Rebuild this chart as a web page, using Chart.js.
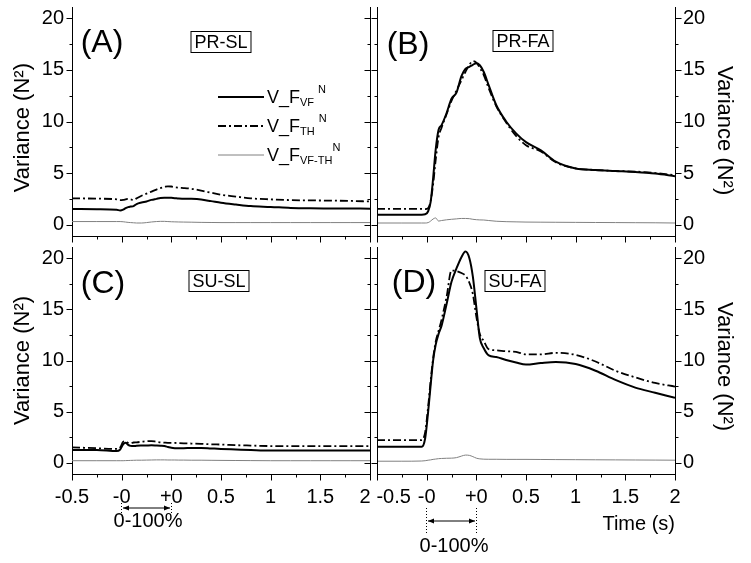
<!DOCTYPE html>
<html>
<head>
<meta charset="utf-8">
<script src="https://cdn.jsdelivr.net/npm/chart.js@4.4.0/dist/chart.umd.min.js"></script>
<style>
  body { margin: 0; background: #fff; }
  #wrap { position: relative; width: 751px; height: 563px; overflow: hidden;
          font-family: "Liberation Sans", Arial, sans-serif; color: #000; }
  #wrap canvas { position: absolute; left: 0; top: 0; }
  #wrap svg { position: absolute; left: 0; top: 0; }
  .lbl { position: absolute; transform: translate(-50%, -50%); white-space: nowrap; }
  .panel { font-size: 32px; line-height: 36px; }
  .box { font-size: 18px; line-height: 20px; border: 1px solid #000; padding: 0 3px; }
  .pct { font-size: 20px; line-height: 24px; }
  .leg { position: absolute; left: 267px; font-size: 18px; line-height: 22px; white-space: nowrap; }
  .leg .sb { position: relative; top: 3px; font-size: 11px; }
  .leg .sp { position: relative; top: -10px; font-size: 11px; margin-left: 4px; }
</style>
</head>
<body>
<div id="wrap">
  <canvas id="cA" width="751" height="563"></canvas>
  <canvas id="cB" width="751" height="563"></canvas>
  <canvas id="cC" width="751" height="563"></canvas>
  <canvas id="cD" width="751" height="563"></canvas>

  <svg width="751" height="563">
    <defs>
      <marker id="ah" viewBox="0 0 6 6" refX="6" refY="3" markerWidth="6" markerHeight="6" orient="auto-start-reverse">
        <path d="M0,0.5 L6,3 L0,5.5 z" fill="#000"/>
      </marker>
    </defs>
    <!-- legend samples -->
    <line x1="218" y1="97" x2="264" y2="97" stroke="#000" stroke-width="2"/>
    <line x1="218" y1="126" x2="264" y2="126" stroke="#000" stroke-width="1.8" stroke-dasharray="8 3 2 3"/>
    <line x1="218" y1="155" x2="264" y2="155" stroke="#808080" stroke-width="1"/>
    <!-- 0-100% markers -->
    <line x1="121.5" y1="503" x2="121.5" y2="514" stroke="#000" stroke-width="1" stroke-dasharray="1 2"/>
    <line x1="171.5" y1="503" x2="171.5" y2="514" stroke="#000" stroke-width="1" stroke-dasharray="1 2"/>
    <line x1="123" y1="508" x2="170" y2="508" stroke="#000" stroke-width="1" marker-start="url(#ah)" marker-end="url(#ah)"/>
    <line x1="426.5" y1="508" x2="426.5" y2="533" stroke="#000" stroke-width="1" stroke-dasharray="1 2"/>
    <line x1="476.5" y1="508" x2="476.5" y2="533" stroke="#000" stroke-width="1" stroke-dasharray="1 2"/>
    <line x1="428" y1="521" x2="475" y2="521" stroke="#000" stroke-width="1" marker-start="url(#ah)" marker-end="url(#ah)"/>
  </svg>

  <div class="lbl panel" style="left:102px;top:41px">(A)</div>
  <div class="lbl panel" style="left:408px;top:43px">(B)</div>
  <div class="lbl panel" style="left:103px;top:282px">(C)</div>
  <div class="lbl panel" style="left:414px;top:281px">(D)</div>

  <div class="lbl box" style="left:221px;top:42px">PR-SL</div>
  <div class="lbl box" style="left:523px;top:41px">PR-FA</div>
  <div class="lbl box" style="left:219px;top:281px">SU-SL</div>
  <div class="lbl box" style="left:515px;top:281px">SU-FA</div>

  <div class="leg" style="top:86px">V_F<span class="sb">VF</span><span class="sp">N</span></div>
  <div class="leg" style="top:115px">V_F<span class="sb">TH</span><span class="sp">N</span></div>
  <div class="leg" style="top:144px">V_F<span class="sb">VF-TH</span><span class="sp" style="margin-left:0">N</span></div>

  <div class="lbl pct" style="left:148px;top:520px">0-100%</div>
  <div class="lbl pct" style="left:454px;top:545px">0-100%</div>
</div>

<script>
// time axis: 0 = -0.5 s, 1 = movement onset, 2 = movement end, 3..6 = 0.5..2 s after
const xTickLabels = ['-0.5', '-0', '+0', '0.5', '1', '1.5', '2'];
const xMinorTicks = [0.5, 1.5, 2.5, 3.5, 4.5, 5.5];
const yTickValues = [0, 5, 10, 15, 20];
const yMinorTicks = [2.5, 7.5, 12.5, 17.5];

const timeGrid = [0, 0.5, 0.9, 0.97, 1.03, 1.08, 1.13, 1.18, 1.24, 1.3, 1.4, 1.5, 1.6, 1.7, 1.78, 1.86,
  1.93, 2.0, 2.07, 2.15, 2.25, 2.4, 2.6, 2.8, 3.0, 3.3, 3.6, 4.0, 4.4, 4.8, 5.2, 5.6, 6.0];

// (A) PR-SL
const prSlVF = [1.52, 1.5, 1.45, 1.37, 1.45, 1.6, 1.7, 1.75, 1.8, 2.0, 2.15, 2.25, 2.4, 2.5, 2.58, 2.62,
  2.62, 2.6, 2.57, 2.53, 2.52, 2.5, 2.43, 2.28, 2.12, 1.95, 1.8, 1.72, 1.62, 1.58, 1.57, 1.56, 1.55];
const prSlTH = [2.55, 2.52, 2.45, 2.38, 2.4, 2.45, 2.5, 2.45, 2.4, 2.55, 2.8, 3.0, 3.2, 3.4, 3.55, 3.65,
  3.72, 3.7, 3.62, 3.58, 3.55, 3.48, 3.3, 3.1, 2.9, 2.72, 2.55, 2.45, 2.38, 2.35, 2.33, 2.3, 2.25];
const prSlDiff = [0.3, 0.3, 0.3, 0.3, 0.28, 0.25, 0.22, 0.2, 0.18, 0.16, 0.16, 0.2, 0.26, 0.3, 0.32, 0.32,
  0.3, 0.28, 0.27, 0.26, 0.25, 0.24, 0.22, 0.21, 0.2, 0.2, 0.2, 0.2, 0.2, 0.2, 0.2, 0.2, 0.2];

// (B) PR-FA
const prFaVF = [0.97, 0.97, 0.97, 1.0, 1.3, 2.2, 4.5, 7.2, 9.2, 9.65, 10.8, 12.2, 12.8, 14.4, 15.1, 15.3,
  15.5, 15.65, 15.45, 14.8, 13.5, 11.6, 10.0, 8.85, 8.0, 7.2, 6.1, 5.45, 5.3, 5.2, 5.1, 4.95, 4.7];
const prFaTH = [1.52, 1.52, 1.52, 1.5, 1.6, 2.3, 3.9, 6.2, 8.5, 9.4, 10.7, 12.0, 13.0, 14.0, 14.8, 15.5,
  15.85, 15.7, 15.2, 14.5, 13.2, 11.5, 9.9, 8.6, 7.7, 7.1, 6.05, 5.45, 5.3, 5.2, 5.15, 5.0, 4.8];
const prFaDiff = [0.16, 0.16, 0.16, 0.16, 0.2, 0.35, 0.55, 0.65, 0.35, 0.4, 0.47, 0.52, 0.56, 0.6, 0.6, 0.58,
  0.52, 0.48, 0.46, 0.45, 0.4, 0.33, 0.29, 0.27, 0.25, 0.24, 0.23, 0.22, 0.21, 0.2, 0.19, 0.18, 0.16];

// (C) SU-SL
const suSlVF = [1.25, 1.25, 1.15, 1.3, 1.8, 1.95, 1.75, 1.65, 1.63, 1.66, 1.68, 1.69, 1.7, 1.68, 1.66, 1.63,
  1.55, 1.47, 1.43, 1.42, 1.42, 1.45, 1.45, 1.4, 1.35, 1.3, 1.25, 1.2, 1.2, 1.2, 1.2, 1.2, 1.2];
const suSlTH = [1.5, 1.42, 1.35, 1.5, 2.05, 2.1, 1.95, 1.92, 1.98, 2.0, 2.05, 2.1, 2.12, 2.05, 2.0, 1.97,
  1.95, 1.95, 1.94, 1.92, 1.9, 1.88, 1.85, 1.8, 1.78, 1.72, 1.68, 1.63, 1.62, 1.62, 1.63, 1.63, 1.63];
const suSlDiff = [0.2, 0.2, 0.2, 0.2, 0.2, 0.21, 0.22, 0.23, 0.24, 0.25, 0.25, 0.26, 0.27, 0.28, 0.28, 0.28,
  0.27, 0.27, 0.27, 0.26, 0.26, 0.25, 0.25, 0.24, 0.23, 0.22, 0.21, 0.2, 0.2, 0.2, 0.2, 0.2, 0.2];

// (D) SU-FA
const suFaVF = [1.56, 1.56, 1.56, 2.4, 5.0, 7.6, 10.0, 11.5, 12.6, 13.4, 15.5, 17.7, 19.0, 20.1, 20.65, 20.0,
  18.2, 15.2, 12.2, 11.2, 10.5, 10.35, 10.05, 9.8, 9.6, 9.75, 9.85, 9.65, 9.0, 8.1, 7.35, 6.85, 6.35];
const suFaTH = [2.21, 2.21, 2.21, 3.0, 5.5, 8.0, 10.2, 11.8, 12.9, 14.0, 16.2, 18.8, 18.75, 18.55, 18.3, 17.6,
  16.5, 14.3, 12.6, 11.9, 11.1, 11.0, 10.9, 10.85, 10.6, 10.6, 10.75, 10.55, 9.9, 9.0, 8.35, 7.8, 7.45];
const suFaDiff = [0.15, 0.15, 0.17, 0.2, 0.25, 0.28, 0.33, 0.36, 0.4, 0.42, 0.44, 0.45, 0.5, 0.65, 0.75, 0.72,
  0.6, 0.45, 0.38, 0.35, 0.34, 0.34, 0.33, 0.33, 0.33, 0.32, 0.31, 0.3, 0.29, 0.28, 0.27, 0.26, 0.25];

Chart.defaults.font.family = '"Liberation Sans", Arial, sans-serif';
Chart.defaults.color = '#000';

// axis lines and tick marks that Chart.js has no option for (minor ticks, inner axis)
const frameTicks = {
  id: 'frameTicks',
  afterDraw(chart, args, opts) {
    const { ctx, chartArea: a, scales: { x, y } } = chart;
    const px = v => Math.round(v) + 0.5;
    const outerX = opts.outer === 'left' ? a.left : a.right;
    const innerX = opts.outer === 'left' ? a.right : a.left;
    const outDir = opts.outer === 'left' ? -1 : 1;
    ctx.save();
    ctx.strokeStyle = '#000';
    ctx.lineWidth = 1;
    ctx.beginPath();
    ctx.moveTo(px(innerX), a.top);
    ctx.lineTo(px(innerX), a.bottom);
    const yTick = (xp, dir, len, v) => {
      const yy = px(y.getPixelForValue(v));
      ctx.moveTo(px(xp), yy);
      ctx.lineTo(px(xp) + dir * len, yy);
    };
    yTickValues.forEach(v => { yTick(outerX, outDir, 6, v); yTick(innerX, -1, 6, v); });
    yMinorTicks.forEach(v => { yTick(outerX, outDir, 3, v); yTick(innerX, -1, 3, v); });
    const xTick = (v, len) => {
      const xx = px(x.getPixelForValue(v));
      ctx.moveTo(xx, px(a.bottom));
      ctx.lineTo(xx, px(a.bottom) + len);
    };
    xTickLabels.forEach((_, i) => xTick(i, 6));
    xMinorTicks.forEach(v => xTick(v, 3));
    ctx.stroke();
    ctx.restore();
  },
};

const pts = vals => vals.map((v, i) => ({ x: timeGrid[i], y: v }));

// spaces only nudge a label off the shared border between neighbouring panels
function xLabel(v, left) {
  const s = xTickLabels[v] ?? '';
  if (left && v === 6) return s + '\u2002';
  if (!left && v === 0) return ' '.repeat(6) + s;
  return s;
}

function drawPanel(id, vf, th, diff, side, bottomRow, titleShift) {
  const left = side === 'left';
  const top = bottomRow ? 247 : 7;
  const bottom = bottomRow ? 474 : 236;
  const xh = bottomRow ? 62 : 10;
  const padding = {
    top,
    bottom: 563 - bottom - xh,
    left: left ? 10 : 377,
    right: left ? 381 : 14,
  };
  const pad = ' '.repeat(titleShift);
  const yTitle = left ? 'Variance (N²)' + pad : pad + 'Variance (N²)';

  return new Chart(document.getElementById(id), {
    type: 'line',
    data: {
      datasets: [
        { label: 'V_F_VF-TH', data: pts(diff), borderColor: '#808080', borderWidth: 1 },
        { label: 'V_F_TH', data: pts(th), borderColor: '#000', borderWidth: 1.8, borderDash: [8, 3, 2, 3] },
        { label: 'V_F_VF', data: pts(vf), borderColor: '#000', borderWidth: 2 },
      ],
    },
    options: {
      responsive: false,
      animation: false,
      events: [],
      layout: { padding },
      elements: {
        point: { radius: 0 },
        line: { cubicInterpolationMode: 'monotone', fill: false },
      },
      plugins: {
        legend: { display: false },
        tooltip: { enabled: false },
        frameTicks: { outer: side },
      },
      scales: {
        x: {
          type: 'linear', min: 0, max: 6, position: 'bottom',
          grid: { display: false, drawTicks: false },
          border: { display: true, color: '#000', width: 1 },
          ticks: {
            display: bottomRow, stepSize: 1, autoSkip: false, maxRotation: 0, padding: 11,
            font: { size: 20 },
            callback: v => xLabel(v, left),
          },
          title: {
            display: bottomRow && !left, text: 'Time (s)', align: 'end',
            font: { size: 20 }, padding: 0,
          },
          afterFit: s => { s.height = xh; s.paddingLeft = 0; s.paddingRight = 0; },
        },
        y: {
          type: 'linear', min: -1.1, max: 21.1, position: side,
          grid: { display: false, drawTicks: false },
          border: { display: true, color: '#000', width: 1 },
          ticks: {
            stepSize: 5, includeBounds: false, padding: 8, font: { size: 20 },
            callback: v => (yTickValues.includes(v) ? v : ''),
          },
          title: { display: true, text: yTitle, font: { size: 22 }, padding: 0 },
          afterFit: s => { s.width = 62; s.paddingTop = 0; s.paddingBottom = 0; },
        },
      },
    },
    plugins: [frameTicks],
  });
}

drawPanel('cA', prSlVF, prSlTH, prSlDiff, 'left', false, 2);
drawPanel('cB', prFaVF, prFaTH, prFaDiff, 'right', false, 3);
drawPanel('cC', suSlVF, suSlTH, suSlDiff, 'left', true, 0);
drawPanel('cD', suFaVF, suFaTH, suFaDiff, 'right', true, 2);
</script>
</body>
</html>
